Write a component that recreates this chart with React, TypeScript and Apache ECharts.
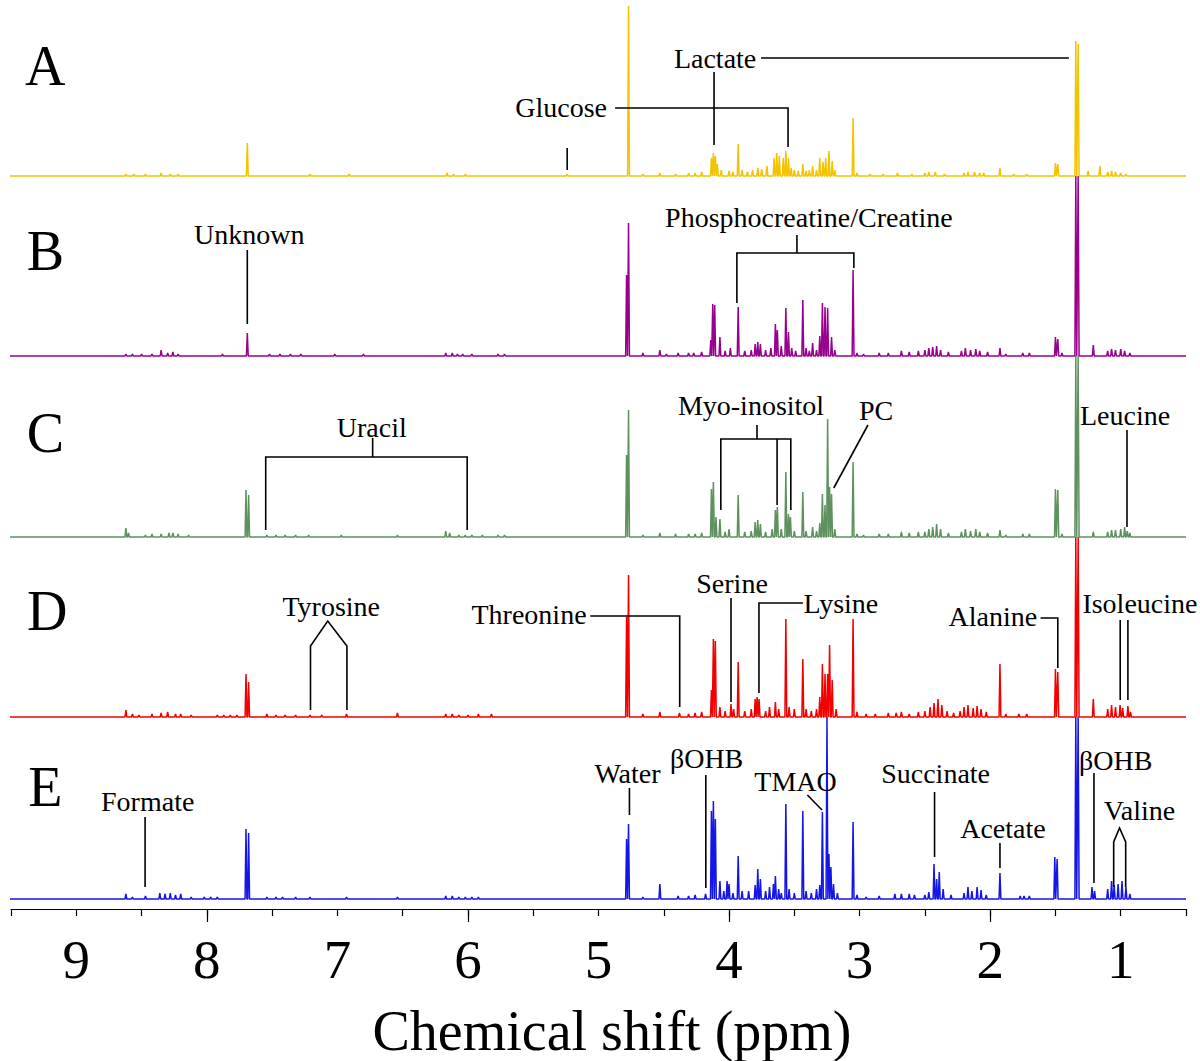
import React, { useEffect, useRef } from "react";
import * as echarts from "echarts";

// ---------- data ----------
const ppmTickLabels = [9, 8, 7, 6, 5, 4, 3, 2, 1];
const majorTicks = [8, 6, 4, 2];
const panelNames = ["A", "B", "C", "D", "E"];
const axisTitle = "Chemical shift (ppm)";

// peak lists per spectrum: [ppm, intensity]
const specA: number[][] = [
  [8.62, 2], [8.56, 2], [8.47, 2], [8.35, 3], [8.28, 2], [8.22, 2], [7.69, 33], [7.21, 2], [6.91, 2], [6.16, 3], [6.11, 2], [6.02, 2], [5.24, 2],
  [4.77, 170], [4.66, 2], [4.53, 3], [4.41, 2], [4.31, 3], [4.26, 3], [4.21, 4],
  [4.135, 18], [4.12, 23], [4.105, 20], [4.09, 12], [4.06, 6], [4.0, 5], [3.97, 4], [3.93, 32], [3.9, 6], [3.86, 4], [3.82, 6], [3.78, 8], [3.75, 7], [3.71, 10],
  [3.655, 18], [3.635, 23], [3.615, 20], [3.585, 18], [3.565, 25], [3.545, 18], [3.525, 8], [3.5, 6], [3.47, 5], [3.435, 12], [3.41, 5], [3.385, 6], [3.36, 10],
  [3.33, 6], [3.305, 18], [3.28, 14], [3.26, 18], [3.235, 25], [3.21, 15], [3.19, 6], [3.05, 58], [3.02, 3],
  [2.92, 2], [2.82, 2], [2.71, 3], [2.6, 2], [2.5, 3], [2.47, 4], [2.42, 4], [2.35, 2], [2.2, 3], [2.17, 4], [2.12, 4], [2.08, 3], [2.05, 3], [1.925, 8],
  [1.82, 2], [1.72, 2], [1.5, 13], [1.482, 12], [1.344, 135], [1.326, 132], [1.25, 5], [1.16, 10], [1.1, 4], [1.07, 5], [1.04, 4], [1.0, 3], [0.96, 2],
];
const specB: number[][] = [
  [8.62, 2], [8.57, 2], [8.5, 2], [8.42, 2], [8.35, 6], [8.3, 3], [8.26, 4], [8.22, 2], [7.88, 2], [7.69, 23], [7.52, 2], [7.44, 2], [7.36, 2], [7.28, 2],
  [7.02, 2], [6.8, 2], [6.17, 3], [6.12, 3], [6.08, 2], [6.04, 2], [5.97, 2], [5.77, 2], [5.72, 2],
  [4.785, 81], [4.77, 133], [4.66, 3], [4.53, 6], [4.48, 2], [4.39, 3], [4.31, 3], [4.27, 3], [4.21, 4],
  [4.14, 16], [4.125, 52], [4.11, 51], [4.07, 19], [4.03, 5], [3.99, 8], [3.93, 49], [3.88, 5], [3.83, 6], [3.8, 12], [3.78, 14], [3.76, 12], [3.72, 6],
  [3.68, 8], [3.645, 32], [3.63, 26], [3.6, 10], [3.565, 48], [3.545, 24], [3.52, 8], [3.49, 5], [3.435, 56], [3.41, 8], [3.385, 5], [3.36, 13], [3.33, 6],
  [3.305, 20], [3.285, 53], [3.265, 49], [3.245, 48], [3.215, 19], [3.19, 6], [3.05, 86], [3.02, 3],
  [2.97, 2], [2.85, 3], [2.78, 3], [2.68, 5], [2.62, 4], [2.55, 5], [2.5, 6], [2.47, 8], [2.44, 9], [2.41, 10], [2.38, 6], [2.32, 4], [2.22, 5], [2.19, 8],
  [2.15, 6], [2.11, 7], [2.08, 5], [2.02, 4], [1.925, 8], [1.88, 2], [1.75, 3], [1.7, 3], [1.5, 19], [1.482, 17], [1.45, 3], [1.344, 180], [1.326, 180],
  [1.21, 11], [1.1, 5], [1.07, 7], [1.04, 6], [1.0, 7], [0.97, 5], [0.93, 3],
];
const specC: number[][] = [
  [8.62, 9], [8.6, 4], [8.47, 2], [8.42, 3], [8.35, 3], [8.29, 4], [8.26, 4], [8.22, 3], [8.14, 2], [7.7, 47], [7.68, 42], [7.54, 2], [7.47, 2], [7.4, 2],
  [7.32, 2], [7.22, 2], [6.97, 2], [6.54, 2], [6.17, 6], [6.14, 4], [6.07, 2], [6.02, 2], [5.97, 2], [5.89, 2], [5.77, 2], [5.72, 2],
  [4.785, 82], [4.77, 127], [4.66, 2], [4.53, 4], [4.41, 3], [4.31, 3], [4.26, 3], [4.21, 4],
  [4.135, 48], [4.12, 55], [4.1, 20], [4.07, 18], [4.03, 5], [4.0, 8], [3.93, 42], [3.88, 5], [3.83, 6], [3.8, 15], [3.78, 17], [3.76, 13], [3.72, 5],
  [3.67, 8], [3.645, 27], [3.63, 30], [3.6, 8], [3.565, 65], [3.545, 23], [3.53, 20], [3.5, 6], [3.435, 45], [3.41, 6], [3.36, 10], [3.33, 6], [3.305, 14],
  [3.285, 43], [3.265, 32], [3.245, 118], [3.23, 50], [3.215, 43], [3.19, 8], [3.05, 75], [3.02, 3],
  [2.97, 2], [2.85, 3], [2.78, 3], [2.68, 5], [2.62, 4], [2.55, 5], [2.5, 5], [2.47, 8], [2.44, 10], [2.41, 13], [2.38, 8], [2.32, 4], [2.22, 5], [2.19, 8],
  [2.15, 6], [2.11, 8], [2.08, 5], [2.02, 4], [1.925, 7], [1.88, 2], [1.75, 3], [1.7, 3], [1.5, 48], [1.482, 47], [1.45, 3], [1.344, 181], [1.326, 181],
  [1.21, 5], [1.1, 5], [1.07, 7], [1.04, 7], [1.0, 8], [0.97, 10], [0.95, 6], [0.93, 4],
];
const specD: number[][] = [
  [8.62, 7], [8.57, 3], [8.52, 2], [8.42, 3], [8.35, 4], [8.3, 5], [8.24, 3], [8.2, 3], [8.12, 2], [7.92, 2], [7.87, 2], [7.82, 2], [7.77, 2], [7.7, 43],
  [7.68, 35], [7.54, 3], [7.47, 2], [7.4, 2], [7.32, 2], [7.21, 2], [7.12, 2], [6.93, 3], [6.54, 4], [6.17, 3], [6.12, 3], [6.07, 2], [6.0, 2], [5.92, 3], [5.82, 3],
  [4.785, 100], [4.77, 142], [4.66, 3], [4.53, 5], [4.38, 4], [4.31, 3], [4.26, 4], [4.21, 5],
  [4.135, 27], [4.12, 78], [4.105, 76], [4.07, 10], [4.03, 6], [3.985, 13], [3.965, 8], [3.93, 55], [3.88, 6], [3.83, 8], [3.8, 18], [3.785, 20], [3.77, 18],
  [3.72, 6], [3.69, 10], [3.645, 15], [3.62, 8], [3.565, 98], [3.54, 10], [3.5, 8], [3.435, 58], [3.41, 8], [3.37, 6], [3.33, 8], [3.305, 20], [3.285, 53],
  [3.265, 43], [3.245, 43], [3.23, 72], [3.21, 37], [3.18, 8], [3.05, 98], [3.02, 5],
  [2.95, 3], [2.88, 3], [2.78, 4], [2.72, 4], [2.68, 5], [2.62, 3], [2.55, 5], [2.5, 6], [2.46, 10], [2.43, 14], [2.4, 18], [2.37, 12], [2.33, 6], [2.28, 4],
  [2.23, 6], [2.2, 10], [2.17, 12], [2.13, 9], [2.1, 11], [2.07, 8], [2.03, 5], [1.925, 53], [1.88, 3], [1.78, 3], [1.72, 3], [1.5, 48], [1.482, 45],
  [1.344, 180], [1.326, 180], [1.21, 18], [1.1, 8], [1.07, 12], [1.04, 10], [1.005, 12], [0.985, 9], [0.945, 11], [0.925, 5],
];
const specE: number[][] = [
  [8.62, 5], [8.57, 2], [8.47, 3], [8.36, 6], [8.32, 5], [8.28, 6], [8.24, 4], [8.2, 5], [8.12, 2], [8.02, 2], [7.97, 2], [7.92, 2], [7.7, 70], [7.68, 66],
  [7.54, 2], [7.47, 2], [7.42, 2], [7.32, 2], [7.21, 2], [6.93, 2], [6.54, 2], [6.17, 3], [6.12, 3], [6.07, 2], [6.02, 2], [5.97, 2], [5.92, 2],
  [4.785, 60], [4.77, 75], [4.66, 2], [4.53, 15], [4.39, 3], [4.31, 3], [4.26, 4], [4.18, 5],
  [4.135, 88], [4.12, 98], [4.105, 80], [4.07, 18], [4.04, 8], [4.015, 18], [4.0, 15], [3.97, 6], [3.93, 43], [3.9, 8], [3.85, 8], [3.8, 14], [3.78, 30],
  [3.76, 20], [3.72, 8], [3.69, 12], [3.66, 15], [3.645, 23], [3.62, 10], [3.6, 6], [3.565, 95], [3.54, 10], [3.5, 6], [3.435, 88], [3.41, 8], [3.37, 6],
  [3.33, 10], [3.305, 14], [3.285, 87], [3.25, 182], [3.235, 45], [3.22, 32], [3.2, 15], [3.17, 6], [3.05, 77], [3.02, 4],
  [2.95, 2], [2.85, 3], [2.73, 5], [2.68, 5], [2.62, 5], [2.58, 4], [2.5, 4], [2.47, 7], [2.43, 35], [2.41, 20], [2.39, 27], [2.36, 10], [2.3, 4], [2.2, 6],
  [2.17, 12], [2.14, 8], [2.1, 12], [2.07, 9], [2.03, 4], [1.925, 26], [1.77, 3], [1.74, 3], [1.7, 3], [1.505, 42], [1.487, 40], [1.344, 182], [1.326, 182],
  [1.22, 12], [1.2, 8], [1.1, 10], [1.07, 18], [1.05, 14], [1.02, 15], [0.99, 18], [0.96, 12], [0.93, 5],
];

// ---------- layout / style ----------
const spectra = [specA, specB, specC, specD, specE];
const offsets = [723, 543, 362, 182, 0];
const colors = ["#f3c300", "#98008e", "#5d915d", "#f20000", "#1515e8"];
const SERIF = '"Liberation Serif", "Times New Roman", serif';
const HALF_WIDTH = 0.007;

type Ann = { label: string; at: number[]; size?: number; lines: number[][][] };
const annotations: Ann[] = [
  { label: "A", at: [9.237, 833], size: 56, lines: [] },
  { label: "B", at: [9.237, 648], size: 56, lines: [] },
  { label: "C", at: [9.237, 466], size: 56, lines: [] },
  { label: "D", at: [9.222, 288], size: 56, lines: [] },
  { label: "E", at: [9.237, 112], size: 56, lines: [] },
  { label: "Glucose", at: [5.286, 792], lines: [[[5.24, 751], [5.24, 729]], [[4.873, 791], [3.548, 791], [3.548, 752]]] },
  { label: "Lactate", at: [4.107, 841], lines: [[[4.115, 827], [4.115, 754]], [[3.755, 841], [1.397, 841]]] },
  { label: "Unknown", at: [7.675, 665], lines: [[[7.69, 649], [7.69, 575]]] },
  { label: "Phosphocreatine/Creatine", at: [3.388, 682], lines: [[[3.48, 664], [3.48, 646]], [[3.94, 596], [3.94, 646], [3.044, 646], [3.044, 631]]] },
  { label: "Uracil", at: [6.737, 472], lines: [[[6.73, 461], [6.73, 442]], [[7.549, 369], [7.549, 442], [6.006, 442], [6.006, 369]]] },
  { label: "Myo-inositol", at: [3.832, 494], lines: [[[3.786, 474], [3.786, 460]], [[4.063, 389], [4.063, 460], [3.527, 460], [3.527, 389]], [[3.632, 460], [3.632, 394]]] },
  { label: "PC", at: [2.874, 489], lines: [[[2.936, 474], [3.198, 411]]] },
  { label: "Leucine", at: [0.967, 484], lines: [[[0.952, 469], [0.952, 372]]] },
  { label: "Tyrosine", at: [7.047, 293], lines: [[[7.206, 189], [7.206, 253], [7.074, 278], [6.927, 253], [6.927, 189]]] },
  { label: "Threonine", at: [5.532, 285], lines: [[[5.063, 283], [4.378, 283], [4.378, 192]]] },
  { label: "Serine", at: [3.977, 316], lines: [[[3.985, 301], [3.985, 197]]] },
  { label: "Lysine", at: [3.143, 296], lines: [[[3.434, 296], [3.771, 296], [3.771, 206]]] },
  { label: "Alanine", at: [1.979, 283], lines: [[[1.614, 281], [1.482, 281], [1.482, 231]]] },
  { label: "Isoleucine", at: [0.853, 296], lines: [[[1.004, 279], [1.004, 199]], [[0.945, 279], [0.945, 199]]] },
  { label: "Formate", at: [8.453, 98], lines: [[[8.473, 82], [8.473, 12]]] },
  { label: "Water", at: [4.778, 126], lines: [[[4.763, 111], [4.763, 84]]] },
  { label: "βOHB", at: [4.172, 141], lines: [[[4.178, 124], [4.178, 11]]] },
  { label: "TMAO", at: [3.491, 118], lines: [[[3.4, 104], [3.288, 89]]] },
  { label: "Succinate", at: [2.418, 126], lines: [[[2.426, 107], [2.426, 42]]] },
  { label: "Acetate", at: [1.902, 71], lines: [[[1.925, 56], [1.925, 31]]] },
  { label: "βOHB", at: [1.038, 139], lines: [[[1.205, 126], [1.205, 16]]] },
  { label: "Valine", at: [0.857, 89], lines: [[[1.054, 12], [1.054, 57], [1.009, 71], [0.962, 57], [0.962, 12]]] },
];

function spikes(peaks: number[][], off: number): number[][] {
  const pts: number[][] = [[9.55, off]];
  const sorted = [...peaks].sort((a, b) => b[0] - a[0]);
  for (const [p, h] of sorted) {
    pts.push([p + HALF_WIDTH, off], [p, off + h], [p - HALF_WIDTH, off]);
  }
  pts.push([0.5, off]);
  return pts;
}

export default function App() {
  const ref = useRef<HTMLDivElement>(null);
  useEffect(() => {
    const chart = echarts.init(ref.current!, null, { renderer: "svg" });
    const order = [4, 3, 2, 1, 0];
    const specSeries = order.map((i) => ({
      type: "line",
      name: panelNames[i],
      xAxisIndex: 0,
      data: spikes(spectra[i], offsets[i]),
      showSymbol: false,
      symbol: "none",
      clip: false,
      lineStyle: { color: colors[i], width: 1.5 },
      silent: true,
      z: 2,
    }));
    const annSeries = {
      type: "custom",
      xAxisIndex: 0,
      data: annotations.map((a) => a.at),
      clip: false,
      silent: true,
      z: 10,
      renderItem: (params: any, api: any) => {
        const a = annotations[params.dataIndex];
        const children: any[] = a.lines.map((line) => ({
          type: "polyline",
          shape: { points: line.map((p) => api.coord(p)) },
          style: { stroke: "#000", lineWidth: 1.6, fill: null },
        }));
        const c = api.coord(a.at);
        children.push({
          type: "text",
          x: c[0],
          y: c[1],
          style: {
            text: a.label,
            fill: "#000",
            font: `${a.size || 28}px ${SERIF}`,
            align: "center",
            verticalAlign: "middle",
          },
        });
        return { type: "group", children };
      },
    };
    chart.setOption({
      animation: false,
      backgroundColor: "#fff",
      grid: { left: 11, right: 14, top: 0, bottom: 152, containLabel: false },
      xAxis: [
        {
          type: "value",
          min: 0.5,
          max: 9.5,
          interval: 0.5,
          inverse: true,
          position: "bottom",
          axisLine: { show: true, onZero: false, lineStyle: { color: "#000", width: 1.2 } },
          axisTick: { show: true, length: 7, lineStyle: { color: "#000", width: 1.2 } },
          axisLabel: {
            customValues: ppmTickLabels,
            formatter: (v: number) => String(v),
            fontSize: 55,
            fontFamily: SERIF,
            color: "#000",
            margin: 23,
          },
          splitLine: { show: false },
        },
        {
          type: "value",
          min: 0.5,
          max: 9.5,
          inverse: true,
          position: "bottom",
          axisLine: { show: false, onZero: false },
          axisTick: { show: true, customValues: majorTicks, length: 13, lineStyle: { color: "#000", width: 1.2 } },
          axisLabel: { show: false },
          splitLine: { show: false },
        },
      ],
      yAxis: { type: "value", min: -10, max: 899, show: false, splitLine: { show: false } },
      graphic: [
        {
          type: "text",
          x: 612,
          y: 1031,
          style: { text: axisTitle, fill: "#000", font: `56px ${SERIF}`, align: "center", verticalAlign: "middle" },
        },
      ],
      series: [...specSeries, annSeries],
    });
    return () => chart.dispose();
  }, []);
  return (
    <div
      ref={ref}
      style={{ position: "fixed", left: 0, top: 0, width: 1200, height: 1061, background: "#fff" }}
    />
  );
}
